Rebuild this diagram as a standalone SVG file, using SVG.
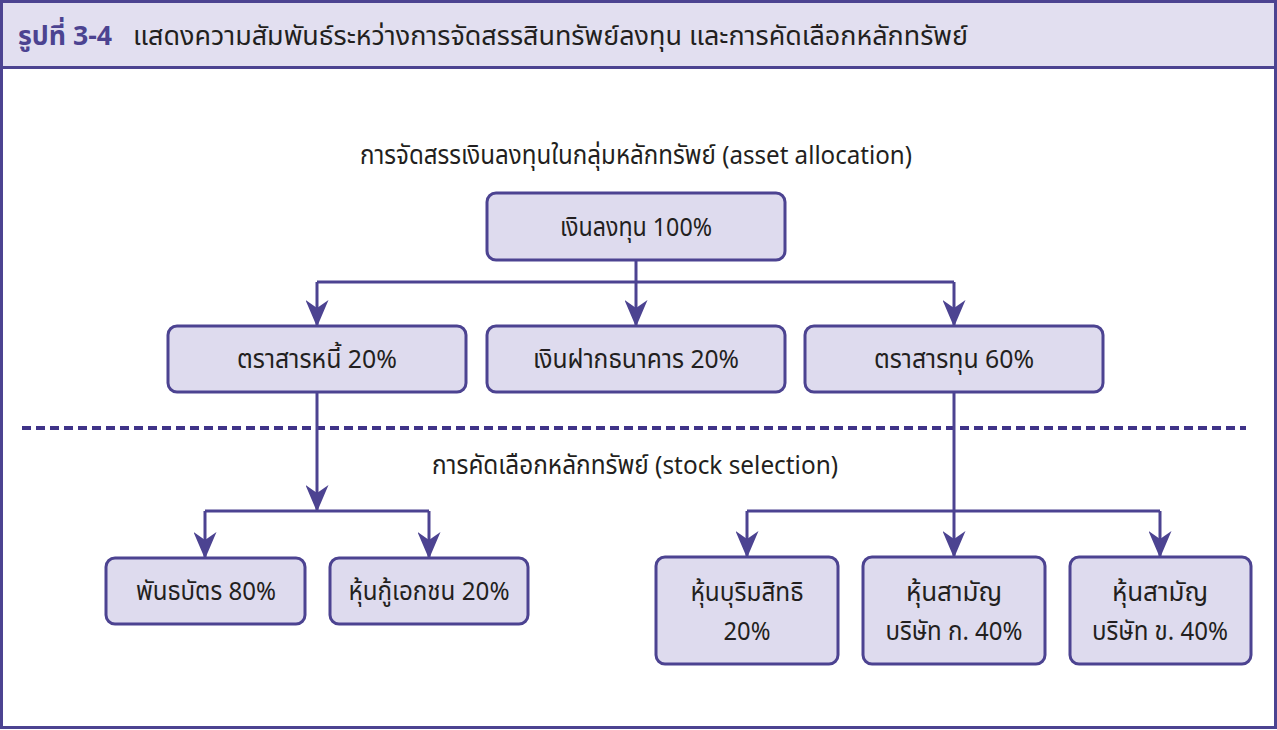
<svg xmlns="http://www.w3.org/2000/svg" width="1277" height="730" viewBox="0 0 1277 730">
<style>
.box{fill:#dedbee;stroke:#4c4391;stroke-width:3}
.t{font-family:"Noto Sans Thai","Liberation Sans",sans-serif;font-size:26px;fill:#231f20;text-anchor:middle}
.c{fill:none;stroke:#4c4391;stroke-width:3}
</style>
<defs>
<marker id="ah" markerUnits="userSpaceOnUse" viewBox="0 0 27 23" markerWidth="27" markerHeight="23" refX="26" refY="11.5" orient="auto">
<path d="M0,0 L27,11.5 L0,23 L8,11.5 Z" fill="#4c4391"/>
</marker>
</defs>
<rect x="1.5" y="1.5" width="1274" height="726" fill="#ffffff" stroke="#4c4391" stroke-width="3"/>
<rect x="1.5" y="1.5" width="1274" height="66" fill="#e2dff0" stroke="#4c4391" stroke-width="3"/>
<text x="18" y="45" font-family="'Noto Sans Thai','Liberation Sans',sans-serif" font-size="27" font-weight="bold" fill="#4c4391" textLength="94" lengthAdjust="spacingAndGlyphs">รูปที่ 3-4</text>
<text x="133" y="45" font-family="'Noto Sans Thai','Liberation Sans',sans-serif" font-size="27" fill="#231f20" textLength="835" lengthAdjust="spacingAndGlyphs">แสดงความสัมพันธ์ระหว่างการจัดสรรสินทรัพย์ลงทุน และการคัดเลือกหลักทรัพย์</text>

<text class="t" x="636" y="164" textLength="552" lengthAdjust="spacingAndGlyphs">การจัดสรรเงินลงทุนในกลุ่มหลักทรัพย์ (asset allocation)</text>
<text class="t" x="635" y="474" textLength="406" lengthAdjust="spacingAndGlyphs">การคัดเลือกหลักทรัพย์ (stock selection)</text>
<line x1="22" y1="428" x2="1246" y2="428" stroke="#3f3388" stroke-width="4" stroke-dasharray="9,5"/>

<g id="connectors">
<path class="c" d="M636,260 V326" marker-end="url(#ah)"/>
<path class="c" d="M317,282 H954"/>
<path class="c" d="M317,282 V326" marker-end="url(#ah)"/>
<path class="c" d="M954,282 V326" marker-end="url(#ah)"/>
<path class="c" d="M317,392 V511" marker-end="url(#ah)"/>
<path class="c" d="M205,511 H429"/>
<path class="c" d="M205,511 V558" marker-end="url(#ah)"/>
<path class="c" d="M429,511 V558" marker-end="url(#ah)"/>
<path class="c" d="M954,392 V557" marker-end="url(#ah)"/>
<path class="c" d="M747,511 H1160"/>
<path class="c" d="M747,511 V557" marker-end="url(#ah)"/>
<path class="c" d="M1160,511 V557" marker-end="url(#ah)"/>
</g>

<g id="n-invest"><rect class="box" x="487" y="193" width="298" height="67" rx="9"/><text class="t" x="636" y="236" textLength="152" lengthAdjust="spacingAndGlyphs">เงินลงทุน 100%</text></g>
<g id="n-debt"><rect class="box" x="168" y="326" width="298" height="66" rx="9"/><text class="t" x="317" y="368" textLength="160" lengthAdjust="spacingAndGlyphs">ตราสารหนี้ 20%</text></g>
<g id="n-deposit"><rect class="box" x="487" y="326" width="298" height="66" rx="9"/><text class="t" x="636" y="368" textLength="206" lengthAdjust="spacingAndGlyphs">เงินฝากธนาคาร 20%</text></g>
<g id="n-equity"><rect class="box" x="805" y="326" width="298" height="66" rx="9"/><text class="t" x="954" y="368" textLength="160" lengthAdjust="spacingAndGlyphs">ตราสารทุน 60%</text></g>
<g id="n-bond"><rect class="box" x="106" y="558" width="199" height="66" rx="9"/><text class="t" x="206" y="600" textLength="140" lengthAdjust="spacingAndGlyphs">พันธบัตร 80%</text></g>
<g id="n-corp"><rect class="box" x="330" y="558" width="198" height="66" rx="9"/><text class="t" x="429" y="600" textLength="161" lengthAdjust="spacingAndGlyphs">หุ้นกู้เอกชน 20%</text></g>
<g id="n-pref"><rect class="box" x="656" y="557" width="182" height="107" rx="9"/><text class="t" x="747" y="601" textLength="113" lengthAdjust="spacingAndGlyphs">หุ้นบุริมสิทธิ</text><text class="t" x="747" y="640" textLength="47" lengthAdjust="spacingAndGlyphs">20%</text></g>
<g id="n-comA"><rect class="box" x="863" y="557" width="182" height="107" rx="9"/><text class="t" x="954" y="601">หุ้นสามัญ</text><text class="t" x="954" y="640" textLength="137" lengthAdjust="spacingAndGlyphs">บริษัท ก. 40%</text></g>
<g id="n-comB"><rect class="box" x="1070" y="557" width="181" height="107" rx="9"/><text class="t" x="1160" y="601">หุ้นสามัญ</text><text class="t" x="1160" y="640" textLength="136" lengthAdjust="spacingAndGlyphs">บริษัท ข. 40%</text></g>
</svg>
